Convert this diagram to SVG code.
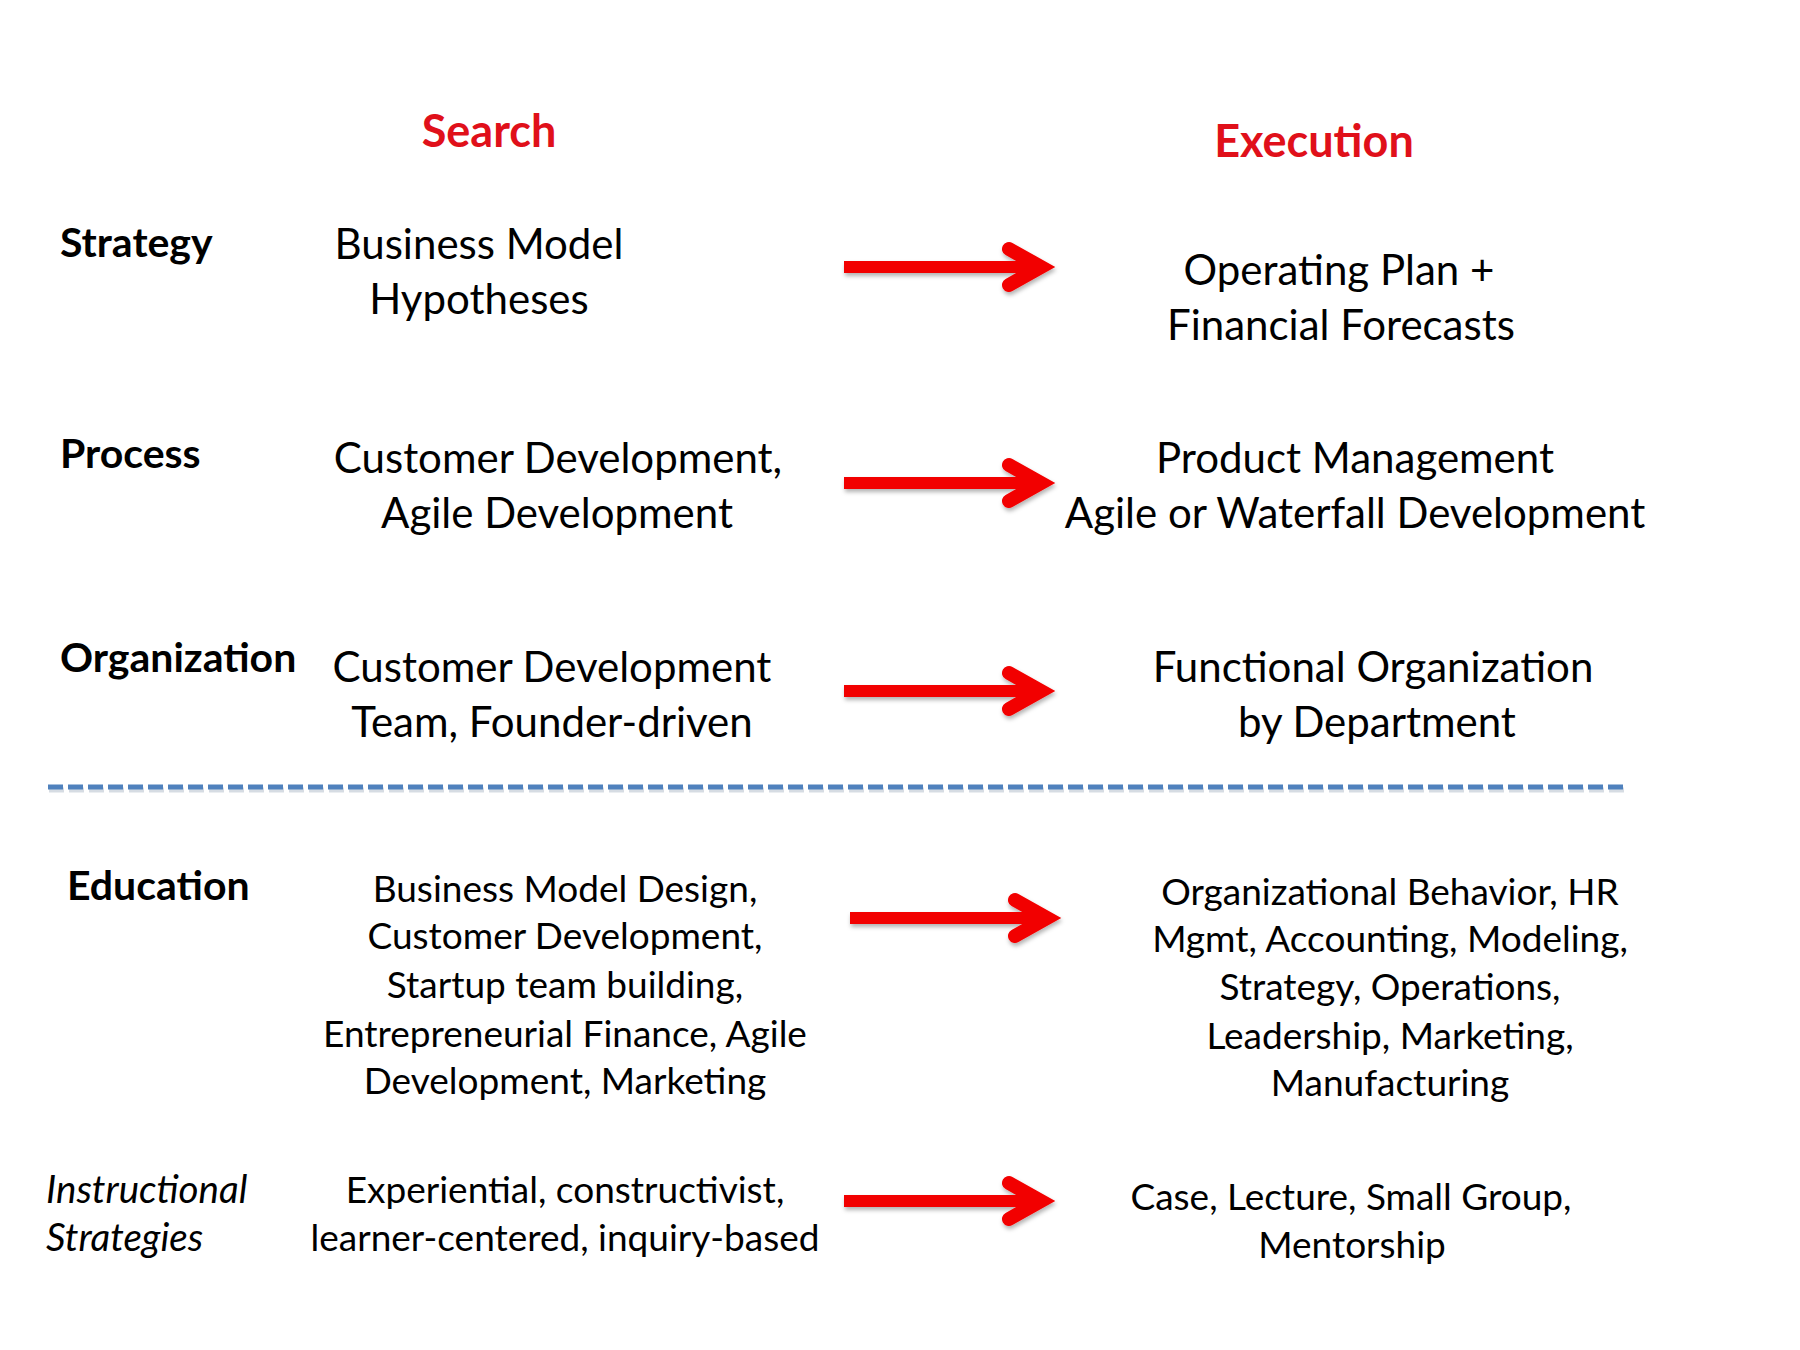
<svg xmlns="http://www.w3.org/2000/svg" width="1800" height="1350" viewBox="0 0 1800 1350">
<style>
  .head { font-family: Lato, "Open Sans", sans-serif; font-weight: bold; font-size: 45px; fill: #E0101A; text-anchor: middle; }
  .lbl { font-family: Lato, "Open Sans", sans-serif; font-weight: bold; font-size: 41px; fill: #000; }
  .lbli { font-family: Lato, "Open Sans", sans-serif; font-style: italic; font-size: 38.5px; fill: #000; }
  .body { font-family: Lato, "Open Sans", sans-serif; font-size: 42px; fill: #000; text-anchor: middle; }
  .small { font-family: Lato, "Open Sans", sans-serif; font-size: 37px; fill: #000; text-anchor: middle; }
  .shaft { stroke: #F20000; stroke-width: 12; fill: none; }
  .tip { stroke: #F20000; stroke-width: 14; fill: none; stroke-linecap: round; stroke-linejoin: miter; stroke-miterlimit: 10; }
  .divider { stroke: #4F81BD; stroke-width: 5; stroke-dasharray: 15 5; fill: none; }
  .divider-shadow { stroke: #8A9AB0; stroke-opacity: 0.35; stroke-width: 5; stroke-dasharray: 15 5; fill: none; }
</style>
<defs>
  <filter id="shadow" filterUnits="userSpaceOnUse" x="-100" y="-100" width="2000" height="1600">
    <feDropShadow dx="1" dy="3" stdDeviation="2" flood-color="#000" flood-opacity="0.3"/>
  </filter>
  <g id="arrow" filter="url(#shadow)">
    <line class="shaft" x1="0" y1="0" x2="192" y2="0"/>
    <path class="tip" d="M 165,-18 L 197,0 L 165,18"/>
  </g>
</defs>
<rect width="1800" height="1350" fill="#fff"/>

<g id="header-search"><text class="head" x="489" y="147">Search</text></g>
<g id="header-execution"><text class="head" x="1314" y="157">Execution</text></g>

<g id="label-strategy"><text class="lbl" x="60" y="257">Strategy</text></g>
<g id="label-process"><text class="lbl" x="60" y="468">Process</text></g>
<g id="label-organization"><text class="lbl" x="60" y="672">Organization</text></g>
<g id="label-education"><text class="lbl" x="67" y="900">Education</text></g>
<g id="label-instructional"><text class="lbli" x="46" y="1203">Instructional</text><text class="lbli" x="46" y="1251">Strategies</text></g>

<g id="search-strategy"><text class="body" x="479" y="259">Business Model</text><text class="body" x="479" y="314">Hypotheses</text></g>
<g id="exec-strategy"><text class="body" x="1339" y="285">Operating Plan +</text><text class="body" x="1341" y="340">Financial Forecasts</text></g>

<g id="search-process"><text class="body" x="558" y="473">Customer Development,</text><text class="body" x="557" y="528">Agile Development</text></g>
<g id="exec-process"><text class="body" x="1355" y="473">Product Management</text><text class="body" x="1355" y="528">Agile or Waterfall Development</text></g>

<g id="search-organization"><text class="body" x="552" y="682">Customer Development</text><text class="body" x="552" y="737">Team, Founder-driven</text></g>
<g id="exec-organization"><text class="body" x="1373" y="682">Functional Organization</text><text class="body" x="1377" y="737">by Department</text></g>

<g id="divider">
  <line class="divider-shadow" x1="49" y1="790" x2="1627" y2="790"/>
  <line class="divider" x1="48" y1="787" x2="1626" y2="787"/>
</g>

<g id="search-education">
  <text class="small" x="565" y="902">Business Model Design,</text>
  <text class="small" x="565" y="949">Customer Development,</text>
  <text class="small" x="565" y="998">Startup team building,</text>
  <text class="small" x="565" y="1047">Entrepreneurial Finance, Agile</text>
  <text class="small" x="565" y="1094">Development, Marketing</text>
</g>
<g id="exec-education">
  <text class="small" x="1390" y="905">Organizational Behavior, HR</text>
  <text class="small" x="1390" y="952">Mgmt, Accounting, Modeling,</text>
  <text class="small" x="1390" y="1000">Strategy, Operations,</text>
  <text class="small" x="1390" y="1049">Leadership, Marketing,</text>
  <text class="small" x="1390" y="1096">Manufacturing</text>
</g>

<g id="search-instructional"><text class="small" x="565" y="1203">Experiential, constructivist,</text><text class="small" x="565" y="1251">learner-centered, inquiry-based</text></g>
<g id="exec-instructional"><text class="small" x="1351" y="1210">Case, Lecture, Small Group,</text><text class="small" x="1352" y="1258">Mentorship</text></g>

<g id="connectors">
  <use href="#arrow" x="844" y="267"/>
  <use href="#arrow" x="844" y="483"/>
  <use href="#arrow" x="844" y="691"/>
  <use href="#arrow" x="850" y="918"/>
  <use href="#arrow" x="844" y="1201"/>
</g>
</svg>
